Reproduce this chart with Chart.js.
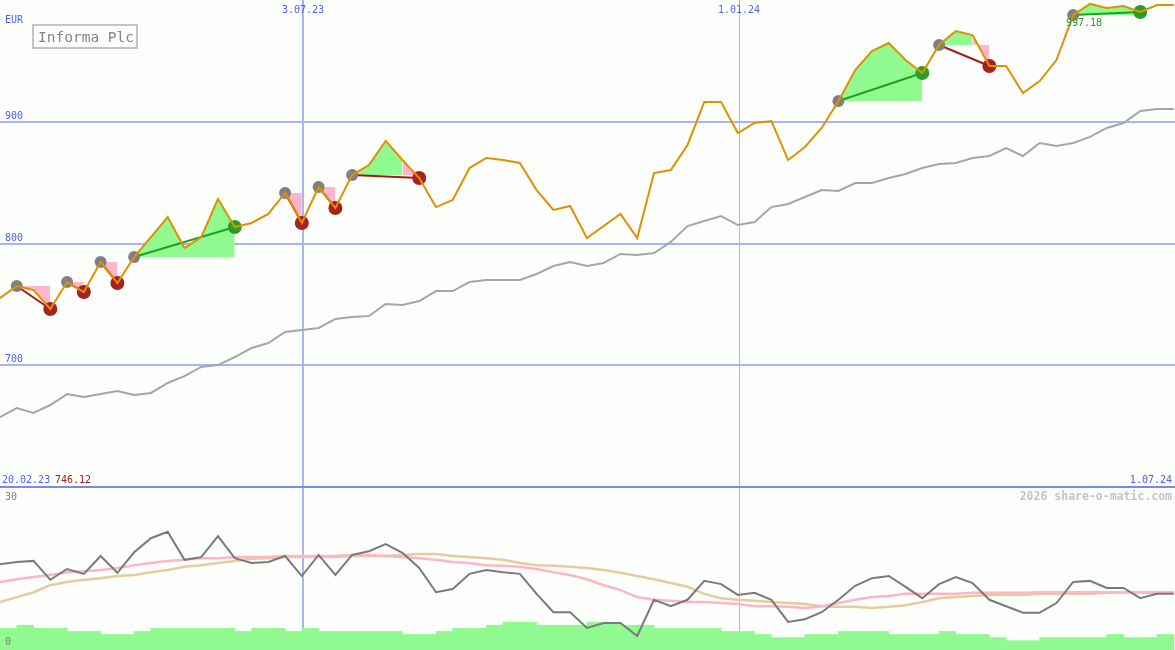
<!DOCTYPE html>
<html>
<head>
<meta charset="utf-8">
<title>Informa Plc</title>
<script src="https://cdn.jsdelivr.net/npm/chart.js@4.4.1/dist/chart.umd.min.js"></script>
<style>
    html, body { margin: 0; padding: 0; background: #fcfffc; }
    #wrap { position: relative; width: 1175px; height: 650px; background: #fcfffc; overflow: hidden; }
    #top { position: absolute; left: 0; top: 0; width: 1175px; height: 488px; }
    #bottom { position: absolute; left: 0; top: 488px; width: 1175px; height: 162px; }
</style>
</head>
<body>
<div id="wrap">
    <div id="top"><canvas id="priceChart" width="1175" height="488"></canvas></div>
    <div id="bottom"><canvas id="indChart" width="1175" height="162"></canvas></div>
</div>
<script>
// weekly closes (EUR), one value per week
const price = [
    755.1, 765.0, 761.7, 746.12, 768.3, 760.1, 784.8, 767.5, 788.9, 805.3,
    821.8, 796.3, 805.3, 836.6, 813.6, 816.9, 824.3, 841.6, 816.9, 846.5,
    829.2, 856.4, 864.6, 884.4, 868.7, 853.9, 830.0, 835.8, 862.1, 870.4,
    868.7, 866.3, 844.0, 827.6, 830.9, 804.5, 814.4, 824.3, 804.5, 858.0,
    860.5, 881.1, 916.5, 916.5, 890.9, 899.2, 900.8, 868.7, 879.4, 895.1,
    917.3, 942.8, 958.4, 965.0, 951.0, 940.3, 963.4, 974.9, 971.6, 946.1,
    946.1, 923.9, 933.7, 951.0, 988.1, 997.18, 993.8, 995.5, 990.5, 996.3,
    996.3
];
// moving average (grey)
const avg = [
    657.2, 664.6, 660.5, 667.1, 676.1, 673.7, 676.1, 678.6, 675.3, 677.0,
    685.2, 690.9, 698.4, 700.0, 706.6, 714.0, 718.1, 727.2, 728.8, 730.5,
    737.9, 739.5, 740.3, 750.2, 749.4, 752.7, 760.9, 760.9, 768.3, 770.0,
    770.0, 770.0, 774.9, 781.5, 784.8, 781.5, 784.0, 791.4, 790.5, 792.2,
    801.2, 814.4, 818.5, 822.6, 815.2, 817.7, 830.0, 832.5, 838.3, 844.0,
    843.2, 849.8, 849.8, 853.9, 857.2, 862.1, 865.4, 866.3, 870.4, 872.0,
    878.6, 872.0, 882.7, 880.2, 882.7, 887.7, 895.1, 899.2, 909.1, 910.7,
    910.7
];
// signals: [buy week, sell week]
const trades = [[1, 3], [4, 5], [6, 7], [8, 14], [17, 18], [19, 20], [21, 25], [50, 55], [56, 59], [64, 68]];

// lower panel
const indicator = [
    15.9, 16.3, 16.5, 13.0, 15.0, 14.1, 17.4, 14.3, 18.1, 20.7,
    21.9, 16.7, 17.2, 21.1, 17.0, 16.1, 16.3, 17.4, 13.7, 17.6,
    13.9, 17.6, 18.3, 19.6, 18.0, 15.2, 10.7, 11.3, 14.1, 14.8,
    14.4, 14.1, 10.4, 7.0, 7.0, 4.1, 5.0, 5.0, 2.6, 9.3,
    8.1, 9.3, 12.8, 12.2, 10.2, 10.6, 9.3, 5.2, 5.7, 7.0,
    9.3, 11.9, 13.3, 13.7, 11.7, 9.6, 12.2, 13.5, 12.4, 9.3,
    8.1, 6.9, 6.9, 8.7, 12.6, 12.8, 11.5, 11.5, 9.6, 10.4,
    10.4
];
const indFast = [
    12.6, 13.1, 13.5, 13.9, 14.4, 14.6, 14.8, 15.2, 15.7, 16.1,
    16.5, 16.7, 17.0, 17.0, 17.2, 17.2, 17.2, 17.4, 17.4, 17.4,
    17.4, 17.6, 17.6, 17.4, 17.2, 17.0, 16.7, 16.3, 16.1, 15.7,
    15.6, 15.4, 15.0, 14.4, 13.9, 13.1, 12.0, 11.1, 9.8, 9.3,
    9.1, 8.9, 8.9, 8.7, 8.5, 8.1, 8.1, 8.0, 7.8, 8.1,
    8.7, 9.3, 9.8, 10.0, 10.4, 10.4, 10.4, 10.4, 10.6, 10.6,
    10.6, 10.6, 10.7, 10.7, 10.7, 10.7, 10.7, 10.7, 10.6, 10.6,
    10.6
];
const indSlow = [
    8.9, 9.8, 10.7, 12.0, 12.6, 13.0, 13.3, 13.7, 13.9, 14.4,
    14.8, 15.4, 15.7, 16.1, 16.5, 16.9, 17.0, 17.2, 17.2, 17.2,
    17.2, 17.4, 17.4, 17.4, 17.6, 17.8, 17.8, 17.4, 17.2, 17.0,
    16.7, 16.1, 15.7, 15.6, 15.4, 15.2, 14.8, 14.3, 13.7, 13.1,
    12.4, 11.7, 10.4, 9.6, 9.3, 9.1, 8.9, 8.7, 8.5, 8.1,
    8.0, 8.0, 7.8, 8.0, 8.3, 8.9, 9.6, 9.8, 10.0, 10.2,
    10.2, 10.2, 10.4, 10.4, 10.4, 10.4, 10.6, 10.7, 10.7, 10.7,
    10.7
];
const volume = [
    7, 8, 7, 7, 6, 6, 5, 5, 6, 7,
    7, 7, 7, 7, 6, 7, 7, 6, 7, 6,
    6, 6, 6, 6, 5, 5, 6, 7, 7, 8,
    9, 9, 8, 8, 8, 9, 9, 8, 8, 7,
    7, 7, 7, 6, 6, 5, 4, 4, 5, 5,
    6, 6, 6, 5, 5, 5, 6, 5, 5, 4,
    3, 3, 4, 4, 4, 4, 5, 4, 4, 5
];

const priceTicks = [700, 800, 900];
const dateTicks = [18.07, 44.07, 70.07];
const dateLabels = ['3.07.23', '1.01.24', '1.07.24'];
const firstDate = '20.02.23';
const lastWeek = 70.07;

const FONT = '"DejaVu Sans Mono", "Liberation Mono", monospace';
const BLUE_TXT = '#4d5ff2';
const GRID = '#a8b4f4';
const GREEN_FILL = '#90fa90';
const PINK_FILL = '#ffb6ca';

const pts = arr => arr.map((v, i) => ({ x: i, y: v }));
const isYearStart = label => label.startsWith('1.01.');

// vertical date lines, shared by both panels
function drawDateLines(chart) {
    const { ctx, chartArea: { top, bottom, right }, scales: { x } } = chart;
    dateTicks.forEach((v, i) => {
        const px = Math.round(x.getPixelForValue(v));
        if (px >= right) return;
        if (isYearStart(dateLabels[i])) {
            ctx.fillStyle = '#b8bccc';
            ctx.fillRect(px, top, 1, bottom - top);
        } else {
            ctx.fillStyle = GRID;
            ctx.fillRect(px - 1, top, 2, bottom - top);
        }
    });
}

// grid + text for the price panel
const priceDecor = {
    id: 'priceDecor',
    beforeDatasetsDraw(chart) {
        const { ctx, chartArea: { left, right }, scales: { y } } = chart;
        ctx.save();
        ctx.fillStyle = GRID;
        priceTicks.forEach(v => {
            const py = Math.round(y.getPixelForValue(v));
            ctx.fillRect(left, py - 1, right - left, 2);
        });
        drawDateLines(chart);
        ctx.restore();
    },
    afterDatasetsDraw(chart) {
        const { ctx, chartArea: { left, right, bottom }, scales: { x, y } } = chart;
        ctx.save();
        ctx.font = '10px ' + FONT;
        ctx.fillStyle = BLUE_TXT;
        ctx.textAlign = 'left';
        priceTicks.forEach(v => {
            ctx.fillText(String(v), left + 5, Math.round(y.getPixelForValue(v)) - 3);
        });
        ctx.fillText('EUR', left + 5, 23);

        // date labels at top, last one at bottom right
        ctx.textAlign = 'center';
        dateTicks.forEach((v, i) => {
            const px = x.getPixelForValue(v);
            if (px < right - 1) ctx.fillText(dateLabels[i], px, 13);
        });
        ctx.textAlign = 'right';
        ctx.fillText(dateLabels[dateLabels.length - 1], right - 3, 483);
        ctx.textAlign = 'left';
        ctx.fillText(firstDate, left + 2, 483);
        const low = Math.min(...price);
        ctx.fillStyle = '#a01c1c';
        ctx.fillText(low.toFixed(2), left + 55, 483);

        // panel separator
        ctx.fillStyle = '#7888f0';
        ctx.fillRect(left, bottom - 2, right - left, 2);

        // title box
        ctx.fillStyle = '#fcfffc';
        ctx.fillRect(33, 25, 104, 23);
        ctx.strokeStyle = '#c4c4c4';
        ctx.lineWidth = 2;
        ctx.strokeRect(33, 25, 104, 23);
        ctx.fillStyle = '#858585';
        ctx.font = '14.5px ' + FONT;
        ctx.fillText('Informa Plc', 38, 42);

        // high label
        const high = Math.max(...price);
        const hi = price.indexOf(high);
        ctx.font = '10px ' + FONT;
        ctx.fillStyle = '#22a022';
        ctx.textAlign = 'center';
        ctx.fillText(high.toFixed(2), x.getPixelForValue(hi) - 6, y.getPixelForValue(high) + 22);
        ctx.restore();
    }
};

const indDecor = {
    id: 'indDecor',
    beforeDatasetsDraw(chart) {
        chart.ctx.save();
        drawDateLines(chart);
        chart.ctx.restore();
    },
    afterDatasetsDraw(chart) {
        const { ctx, chartArea: { left, right, top, bottom } } = chart;
        ctx.save();
        ctx.font = '10px ' + FONT;
        ctx.fillStyle = '#808080';
        ctx.textAlign = 'left';
        ctx.fillText('30', left + 5, top + 12);
        ctx.fillText('0', left + 5, bottom - 5);
        ctx.font = 'bold 11.5px ' + FONT;
        ctx.fillStyle = '#c4c4c4';
        ctx.textAlign = 'right';
        ctx.fillText('2026 share-o-matic.com', right - 3, top + 12);
        ctx.restore();
    }
};

// price panel datasets
const priceData = pts(price);
const datasets = [];
datasets.push({ data: priceData, borderColor: '#e09000', borderWidth: 2, pointRadius: 0, order: 0 });

const isWin = t => price[t[1]] > price[t[0]];
datasets.push({
    data: trades.map(t => ({ x: t[1], y: price[t[1]] })),
    showLine: false, pointRadius: 7, pointBorderWidth: 0,
    pointBackgroundColor: trades.map(t => isWin(t) ? '#2a9e2a' : '#a52222'),
    order: 1
});
datasets.push({
    data: trades.map(t => ({ x: t[0], y: price[t[0]] })),
    showLine: false, pointRadius: 6, pointBorderWidth: 0,
    pointBackgroundColor: '#808080',
    order: 1
});
trades.forEach(t => {
    const [s, e] = t;
    const win = isWin(t);
    datasets.push({
        data: [priceData[s], priceData[e]],
        borderColor: win ? '#22a022' : '#a01c1c', borderWidth: 2, pointRadius: 0, order: 2
    });
    // area against the entry level; on a losing trade the closing week is shaded pink
    const cut = win ? e + 1 : e;
    if (cut - s > 1) {
        datasets.push({
            data: priceData.slice(s, cut),
            fill: { target: { value: price[s] }, above: GREEN_FILL, below: PINK_FILL },
            borderWidth: 0, borderColor: 'transparent', pointRadius: 0, order: 3
        });
    }
    if (!win) {
        datasets.push({
            data: priceData.slice(e - 1, e + 1),
            fill: { target: { value: price[s] }, above: PINK_FILL, below: PINK_FILL },
            borderWidth: 0, borderColor: 'transparent', pointRadius: 0, order: 3
        });
    }
});
datasets.push({ data: pts(avg), borderColor: '#a6a6a6', borderWidth: 2, pointRadius: 0, order: 4 });

new Chart(document.getElementById('priceChart'), {
    type: 'line',
    data: { datasets },
    options: {
        responsive: false,
        animation: false,
        events: [],
        layout: { autoPadding: false, padding: 0 },
        plugins: { legend: { display: false }, tooltip: { enabled: false } },
        scales: {
            x: { type: 'linear', min: 0, max: lastWeek, display: false },
            y: { min: 598.8, max: 1000.4, display: false }
        }
    },
    plugins: [priceDecor]
});

new Chart(document.getElementById('indChart'), {
    type: 'bar',
    data: {
        datasets: [
            { type: 'line', data: pts(indicator), borderColor: '#7a7a7a', borderWidth: 2, pointRadius: 0, yAxisID: 'y', order: 0 },
            { type: 'line', data: pts(indFast), borderColor: '#ffb4c8', borderWidth: 2.5, pointRadius: 0, yAxisID: 'y', order: 1 },
            { type: 'line', data: pts(indSlow), borderColor: '#e4cc9e', borderWidth: 2.5, pointRadius: 0, yAxisID: 'y', order: 2 },
            {
                type: 'bar', data: volume.map((v, i) => ({ x: i + 0.5, y: v })),
                backgroundColor: GREEN_FILL, borderWidth: 0,
                barPercentage: 1, categoryPercentage: 1, yAxisID: 'yv', order: 3
            }
        ]
    },
    options: {
        responsive: false,
        animation: false,
        events: [],
        layout: { autoPadding: false, padding: 0 },
        plugins: { legend: { display: false }, tooltip: { enabled: false } },
        scales: {
            x: { type: 'linear', min: 0, max: lastWeek, offset: false, display: false },
            y: { min: 0, max: 30, display: false },
            yv: { min: 0, max: 52.3, display: false }
        }
    },
    plugins: [indDecor]
});
</script>
</body>
</html>
